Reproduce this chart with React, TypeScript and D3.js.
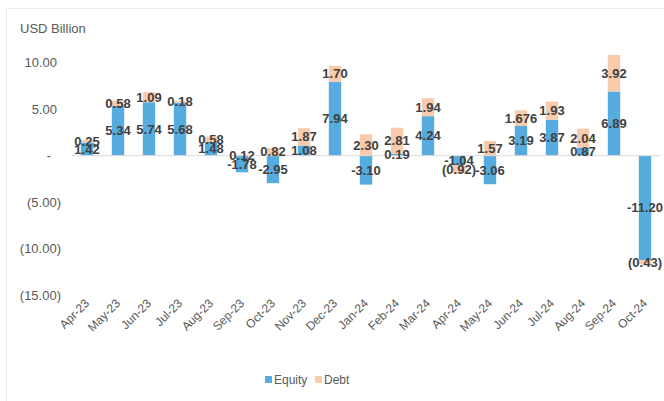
import React from "react";
import * as d3 from "d3";

const categories = ["Apr-23","May-23","Jun-23","Jul-23","Aug-23","Sep-23","Oct-23","Nov-23","Dec-23","Jan-24","Feb-24","Mar-24","Apr-24","May-24","Jun-24","Jul-24","Aug-24","Sep-24","Oct-24"];
const equity = [1.42,5.34,5.74,5.68,1.48,-1.78,-2.95,1.08,7.94,-3.10,0.19,4.24,-1.04,-3.06,3.19,3.87,0.87,6.89,-11.20];
const debt = [0.25,0.58,1.09,0.18,0.58,0.12,0.82,1.87,1.70,2.30,2.81,1.94,-0.92,1.57,1.676,1.93,2.04,3.92,-0.43];
const yTicks = [10,5,0,-5,-10,-15];
const seriesNames = ["Equity","Debt"];
const colors = ["#56ACDF","#F8CBAD"];

const W = 664, H = 401;

const fmtEquity = (v: number) => v.toFixed(2);
const fmtDebt = (v: number) => {
  if (v < 0) return `(${Math.abs(v).toFixed(2)})`;
  return Number(v.toFixed(2)) === v ? v.toFixed(2) : String(v);
};
const fmtTick = (v: number) => v === 0 ? "-" : v < 0 ? `(${Math.abs(v).toFixed(2)})` : v.toFixed(2);

export default function App() {
  const x = d3.scaleBand<string>().domain(categories).range([71.5, 660.5]).paddingInner(0.6).paddingOuter(0.3);
  const y = d3.scaleLinear().domain([-15, 10]).range([295.5, 62.5]);
  const rows = categories.map((c, i) => ({ cat: c, Equity: equity[i], Debt: debt[i] }));
  const stacked = d3.stack<any>().keys(seriesNames).offset(d3.stackOffsetDiverging)(rows);
  const step = x.step();
  const font = "'Liberation Sans', Arial, sans-serif";

  return (
    <svg width={W} height={H} style={{ position: "absolute", left: 0, top: 0, background: "#fff" }} fontFamily={font}>
      <rect x={6.5} y={8.5} width={720} height={520} fill="none" stroke="#ececec" />
      <text x={20} y={33} fontSize={13} fill="#595959">USD Billion</text>
      {yTicks.map((t) => (
        <text key={t} x={t < 0 ? 61 : t === 0 ? 51 : 57} y={y(t)} dy="0.35em" textAnchor="end" fontSize={13} fill="#595959">{fmtTick(t)}</text>
      ))}
      {stacked.map((s, si) => (
        <g key={s.key}>
          {s.map((d, i) => {
            const y0 = y(Math.max(d[0], d[1]));
            const y1 = y(Math.min(d[0], d[1]));
            return <rect key={i} x={x(categories[i])} y={y0} width={x.bandwidth()} height={y1 - y0} fill={colors[si]} />;
          })}
        </g>
      ))}
      <line x1={71.5} x2={660.5} y1={y(0)} y2={y(0)} stroke="#d9d9d9" strokeWidth={1} />
      {stacked.map((s, si) => (
        <g key={"l" + s.key}>
          {s.map((d, i) => {
            const cx = (x(categories[i]) as number) + x.bandwidth() / 2;
            const cy = y((d[0] + d[1]) / 2);
            const v = si === 0 ? equity[i] : debt[i];
            return (
              <text key={i} x={cx} y={cy} dy="0.35em" textAnchor="middle" fontSize={13} fontWeight="bold" fill="#404040">
                {si === 0 ? fmtEquity(v) : fmtDebt(v)}
              </text>
            );
          })}
        </g>
      ))}
      {categories.map((c) => {
        const cx = (x(c) as number) + x.bandwidth() / 2 + 3;
        return (
          <text key={c} transform={`translate(${cx},${304}) rotate(-45)`} textAnchor="end" fontSize={12} fill="#595959">{c}</text>
        );
      })}
      <g>
        <rect x={265} y={376} width={7} height={7} fill={colors[0]} />
        <text x={274} y={380} dy="0.35em" fontSize={12} fill="#595959">{seriesNames[0]}</text>
        <rect x={315} y={376} width={7} height={7} fill={colors[1]} />
        <text x={324} y={380} dy="0.35em" fontSize={12} fill="#595959">{seriesNames[1]}</text>
      </g>
    </svg>
  );
}
